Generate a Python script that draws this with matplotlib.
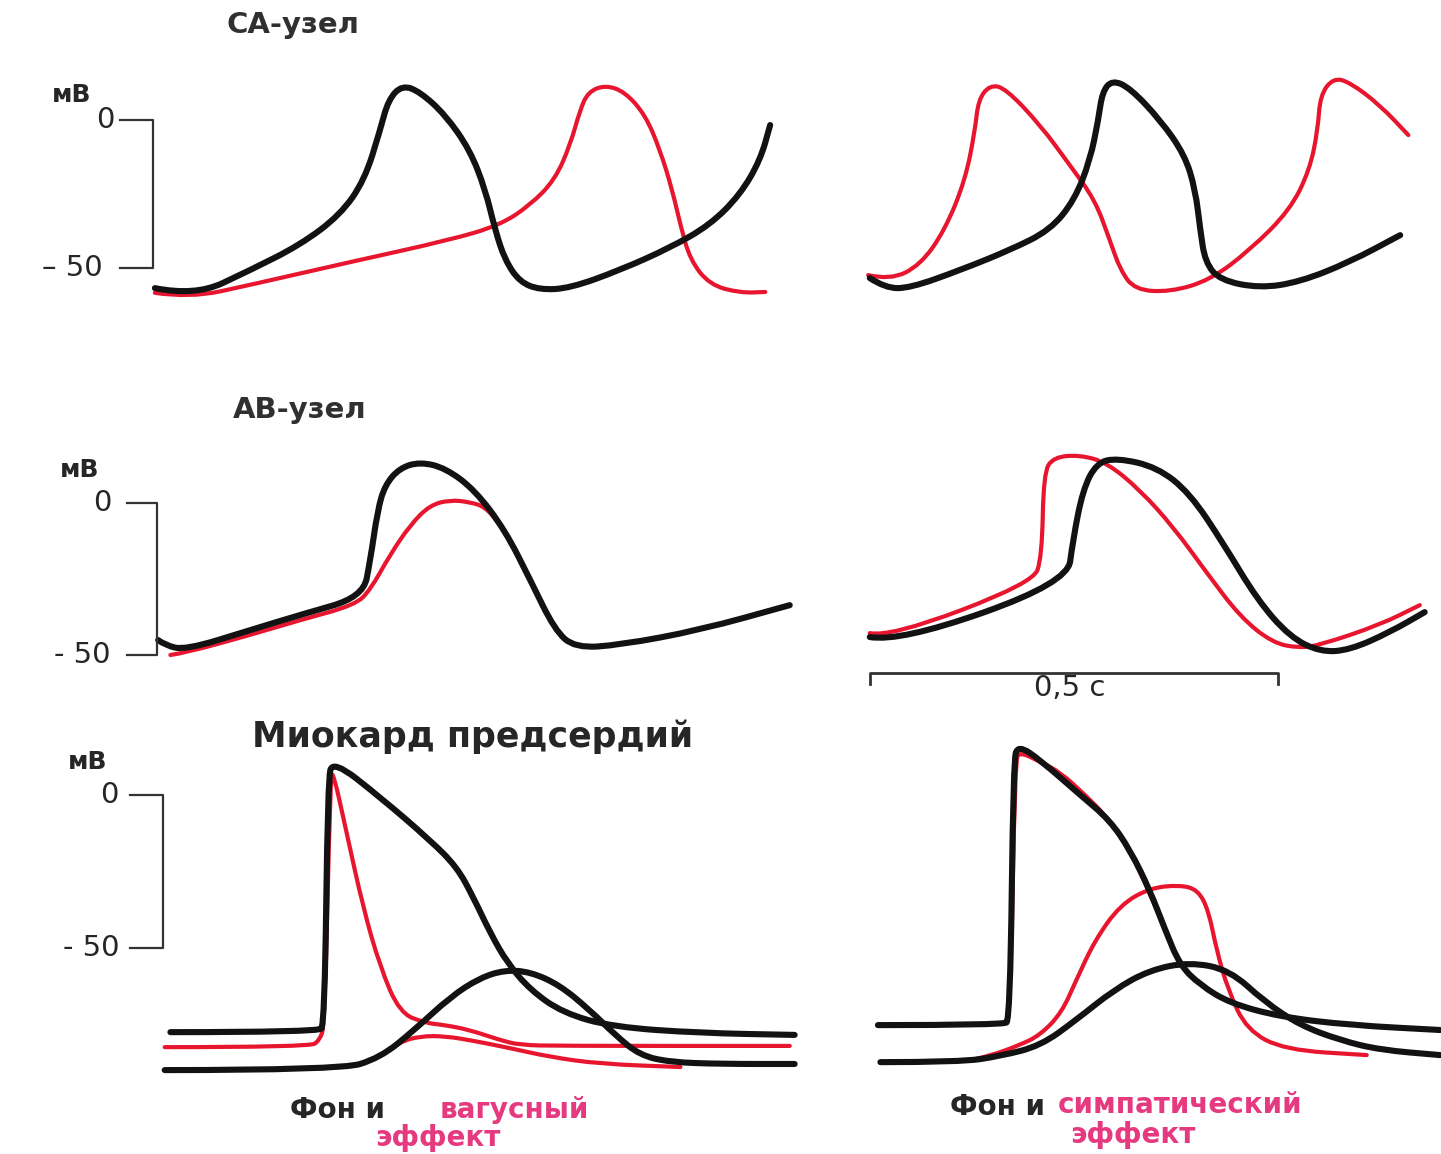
import matplotlib
matplotlib.use("Agg")
import matplotlib.pyplot as plt
from matplotlib.path import Path
from matplotlib.patches import PathPatch

plt.rcParams['font.family'] = ['DejaVu Sans']

# --- data: time in ms, membrane potential in mV ---
# SA node, background (black) and vagus (red)
sa_bg_t = [6, 55, 123, 184, 233, 263, 282, 292, 309, 331, 362, 392, 411, 423, 435, 453, 478, 515, 576, 637, 686, 723, 748, 760]
sa_bg_v = [-56.8, -59.5, -50.7, -42.2, -32.1, -20.3, -3.4, 6.8, 11.8, 9.5, 1.7, -10.1, -23.6, -37.2, -47.3, -54.7, -57.4, -56.8, -50.7, -43.2, -35.5, -25.3, -13.5, -1.7]
sa_vag_t = [6, 49, 123, 245, 368, 429, 466, 496, 515, 527, 537, 558, 582, 607, 625, 640, 650, 662, 686, 723, 754]
sa_vag_v = [-58.4, -60.1, -55.7, -48.0, -40.5, -35.5, -28.7, -20.3, -8.4, 3.4, 9.5, 11.8, 9.5, 1.7, -10.1, -23.6, -35.5, -47.3, -55.7, -58.4, -58.1]
# SA node, background (black) and sympathetic (red)
sa_bg2_t = [12, 31, 61, 123, 184, 233, 263, 282, 292, 297, 309, 331, 368, 398, 411, 417, 423, 441, 490, 539, 600, 662]
sa_bg2_v = [-53.4, -56.8, -56.8, -50.7, -43.9, -37.2, -27.0, -13.5, 0.0, 9.5, 13.5, 10.8, 0.0, -11.8, -23.6, -37.2, -48.0, -54.1, -56.8, -54.7, -48.0, -38.9]
sa_sym_t = [10, 37, 74, 104, 129, 141, 145, 159, 178, 221, 257, 288, 306, 319, 337, 380, 429, 478, 527, 551, 561, 564, 580, 600, 637, 672]
sa_sym_v = [-52.4, -54.1, -49.0, -37.2, -20.3, -3.4, 6.8, 11.8, 10.8, -1.7, -15.2, -27.0, -40.5, -50.7, -57.4, -58.1, -54.1, -43.9, -30.4, -16.9, -3.4, 8.4, 14.2, 12.8, 5.1, -5.1]

# AV node
av_bg_t = [10, 18, 43, 123, 184, 261, 270, 279, 288, 306, 331, 362, 398, 435, 466, 496, 521, 576, 674, 784]
av_bg_v = [-45.1, -46.7, -48.4, -41.8, -36.8, -30.9, -18.8, -2.3, 5.9, 11.5, 13.5, 11.5, 4.3, -8.9, -25.3, -41.8, -47.7, -46.7, -41.8, -33.6]
av_vag_t = [25, 43, 123, 184, 251, 270, 294, 319, 343, 368, 392, 411, 429]
av_vag_v = [-50.0, -49.3, -43.4, -38.5, -33.6, -28.6, -17.1, -7.2, -0.7, 1.0, 0.3, -1.3, -7.2]
av_bg2_t = [12, 49, 254, 261, 273, 290, 315, 364, 404, 445, 487, 527, 564, 600, 650, 692]
av_bg2_v = [-44.1, -45.7, -26.3, -12.2, 4.3, 13.2, 14.8, 11.8, 3.3, -13.2, -31.9, -44.1, -49.0, -48.4, -42.4, -35.9]
av_sym_t = [12, 37, 212, 223, 225, 237, 270, 303, 343, 384, 425, 466, 506, 539, 564, 637, 686]
av_sym_v = [-42.8, -44.1, -26.3, -17.8, 9.9, 15.1, 15.8, 13.2, 4.3, -7.9, -23.0, -37.5, -46.1, -47.7, -46.7, -40.1, -33.6]

# atrial myocardium, vagus side
my_bg_ap_t = [25, 206, 214, 218, 224, 282, 343, 376, 396, 417, 438, 466, 506, 567, 674, 790]
my_bg_ap_v = [-77.5, -77.5, -75.2, 4.9, 11.4, -0.7, -14.7, -23.5, -33.3, -45.1, -54.9, -63.7, -71.2, -75.8, -77.8, -78.4]
my_vag_ap_t = [18, 196, 208, 214, 221, 224, 241, 261, 282, 306, 337, 362, 392, 429, 453, 502, 784]
my_vag_ap_v = [-82.4, -82.4, -80.1, -75.2, 4.9, 8.2, -12.4, -36.6, -56.2, -71.2, -74.5, -75.2, -76.8, -80.1, -81.7, -82.0, -82.0]
my_bg_low_t = [18, 233, 282, 324, 368, 404, 435, 466, 502, 539, 570, 600, 637, 699, 790]
my_bg_low_v = [-89.9, -89.9, -85.9, -76.8, -66.0, -59.8, -57.2, -57.8, -62.1, -70.3, -78.4, -85.0, -87.3, -87.9, -87.9]
my_vag_low_t = [18, 233, 276, 306, 331, 362, 398, 441, 490, 552, 650]
my_vag_low_v = [-89.9, -89.9, -86.6, -80.7, -78.8, -78.8, -80.4, -82.7, -85.6, -87.9, -88.9]

# atrial myocardium, sympathetic side
my_bg2_ap_t = [22, 175, 184, 188, 194, 221, 270, 306, 331, 355, 374, 392, 417, 453, 515, 600, 711]
my_bg2_ap_v = [-75.2, -75.2, -73.5, 11.4, 16.3, 11.4, 0.0, -8.2, -18.0, -31.0, -44.1, -55.6, -62.1, -68.0, -72.5, -75.2, -76.8]
my_sym_ap_t = [22, 175, 184, 190, 196, 221, 245, 276, 300, 319, 343, 374, 392, 417, 453, 515, 600, 711]
my_sym_ap_v = [-75.2, -75.2, -73.5, 11.4, 14.1, 10.8, 7.5, 0.0, -6.5, -13.1, -24.5, -44.1, -55.6, -62.1, -68.0, -72.5, -75.2, -76.8]
my_bg2_low_t = [25, 123, 172, 221, 265, 311, 355, 404, 453, 496, 539, 588, 637, 711]
my_bg2_low_v = [-87.3, -87.3, -85.3, -82.0, -73.5, -63.7, -57.2, -54.6, -57.2, -67.6, -75.2, -80.1, -83.3, -85.0]
my_sym_low_t = [25, 123, 159, 196, 221, 247, 265, 288, 319, 355, 392, 414, 427, 437, 451, 474, 520, 621]
my_sym_low_v = [-87.3, -87.3, -85.3, -81.7, -78.4, -71.2, -60.5, -47.4, -35.9, -30.4, -29.4, -31.0, -37.6, -50.7, -63.7, -76.8, -83.3, -85.0]

BLACK = '#121212'
RED = '#e8152f'
PINK = '#e63a80'
TEXT = '#262626'

W, H = 1441, 1154
MS_PER_PX = 500 / 408

fig = plt.figure(figsize=(W / 100, H / 100), dpi=100)
fig.patch.set_facecolor('white')


def make_panel(left, right, top, bottom, x0, y0, px_per_mv):
    ax = fig.add_axes([left / W, 1 - bottom / H, (right - left) / W, (bottom - top) / H])
    ax.set_xlim((left - x0) * MS_PER_PX, (right - x0) * MS_PER_PX)
    ax.set_ylim((y0 - bottom) / px_per_mv, (y0 - top) / px_per_mv)
    ax.axis('off')
    return ax


def trace(ax, t, v, color, lw):
    # smooth hand-drawn look: quadratic curves through the traced points
    pts = list(zip(t, v))
    verts = [pts[0]]
    codes = [Path.MOVETO]
    for i in range(1, len(pts) - 1):
        mid = ((pts[i][0] + pts[i + 1][0]) / 2, (pts[i][1] + pts[i + 1][1]) / 2)
        verts += [pts[i], mid]
        codes += [Path.CURVE3, Path.CURVE3]
    verts.append(pts[-1])
    codes.append(Path.LINETO)
    ax.add_patch(PathPatch(Path(verts, codes), fill=False, edgecolor=color, lw=lw,
                           capstyle='round', joinstyle='round'))


def mv_axis(ax, x_bar, x_tick, label_x, zero_x, fifty_x, unit_y, fifty_txt):
    ax.plot([x_tick, x_bar, x_bar, x_tick], [0, 0, -50, -50], color='#333333', lw=1.6,
            clip_on=False)
    ax.text(label_x, unit_y, 'мВ', fontsize=18, fontweight='bold', color=TEXT,
            ha='center', va='center')
    ax.text(zero_x, 0, '0', fontsize=21, color=TEXT, ha='right', va='center')
    ax.text(fifty_x, -50, fifty_txt, fontsize=21, color=TEXT, ha='right', va='center')


BK_LW = 4.4
RD_LW = 3.0

# row 1: SA node
ax = make_panel(0, 825, 45, 330, 150, 120, 2.96)
trace(ax, sa_vag_t, sa_vag_v, RED, RD_LW)
trace(ax, sa_bg_t, sa_bg_v, BLACK, BK_LW)
mv_axis(ax, 4, -37, -96, -43, -58, 8.4, '– 50')
ax = make_panel(825, W, 45, 330, 860, 120, 2.96)
trace(ax, sa_sym_t, sa_sym_v, RED, RD_LW)
trace(ax, sa_bg2_t, sa_bg2_v, BLACK, BK_LW)

# row 2: AV node
ax = make_panel(0, 825, 435, 705, 150, 503, 3.04)
trace(ax, av_vag_t, av_vag_v, RED, RD_LW)
trace(ax, av_bg_t, av_bg_v, BLACK, BK_LW)
mv_axis(ax, 9, -28, -86, -47, -49, 10.9, '- 50')
ax = make_panel(825, W, 435, 705, 860, 503, 3.04)
trace(ax, av_sym_t, av_sym_v, RED, RD_LW)
trace(ax, av_bg2_t, av_bg2_v, BLACK, BK_LW)
ax.plot([12, 12, 512, 512], [-59.5, -56, -56, -59.5], color='#333333', lw=2.0)
ax.text(257, -61, '0,5 с', fontsize=21, color=TEXT, ha='center', va='center')

# row 3: atrial myocardium
ax = make_panel(0, 825, 725, 1095, 150, 795, 3.06)
trace(ax, my_vag_ap_t, my_vag_ap_v, RED, RD_LW)
trace(ax, my_vag_low_t, my_vag_low_v, RED, RD_LW)
trace(ax, my_bg_ap_t, my_bg_ap_v, BLACK, BK_LW)
trace(ax, my_bg_low_t, my_bg_low_v, BLACK, BK_LW)
mv_axis(ax, 16, -24, -77, -39, -37, 10.8, '- 50')
ax = make_panel(825, W, 725, 1095, 860, 795, 3.06)
trace(ax, my_sym_ap_t, my_sym_ap_v, RED, RD_LW)
trace(ax, my_sym_low_t, my_sym_low_v, RED, RD_LW)
trace(ax, my_bg2_ap_t, my_bg2_ap_v, BLACK, BK_LW)
trace(ax, my_bg2_low_t, my_bg2_low_v, BLACK, BK_LW)


# titles and captions
def ftext(x, y, s, ha='center', **kw):
    fig.text(x / W, 1 - y / H, s, ha=ha, va='center', fontweight='bold', **kw)


ftext(293, 25, 'СА-узел', fontsize=21, color='#303030')
ftext(300, 410, 'АВ-узел', fontsize=21, color='#303030')
ftext(473, 737, 'Миокард предсердий', fontsize=25, color=TEXT)

ftext(385, 1110, 'Фон и', ha='right', fontsize=20, color=TEXT)
ftext(440, 1110, 'вагусный', ha='left', fontsize=20, color=PINK)
ftext(375, 1138, 'эффект', ha='left', fontsize=20, color=PINK)
ftext(1045, 1107, 'Фон и', ha='right', fontsize=20, color=TEXT)
ftext(1058, 1105, 'симпатический', ha='left', fontsize=20, color=PINK)
ftext(1070, 1135, 'эффект', ha='left', fontsize=20, color=PINK)

fig.savefig('out.png', dpi=100, facecolor='white')
